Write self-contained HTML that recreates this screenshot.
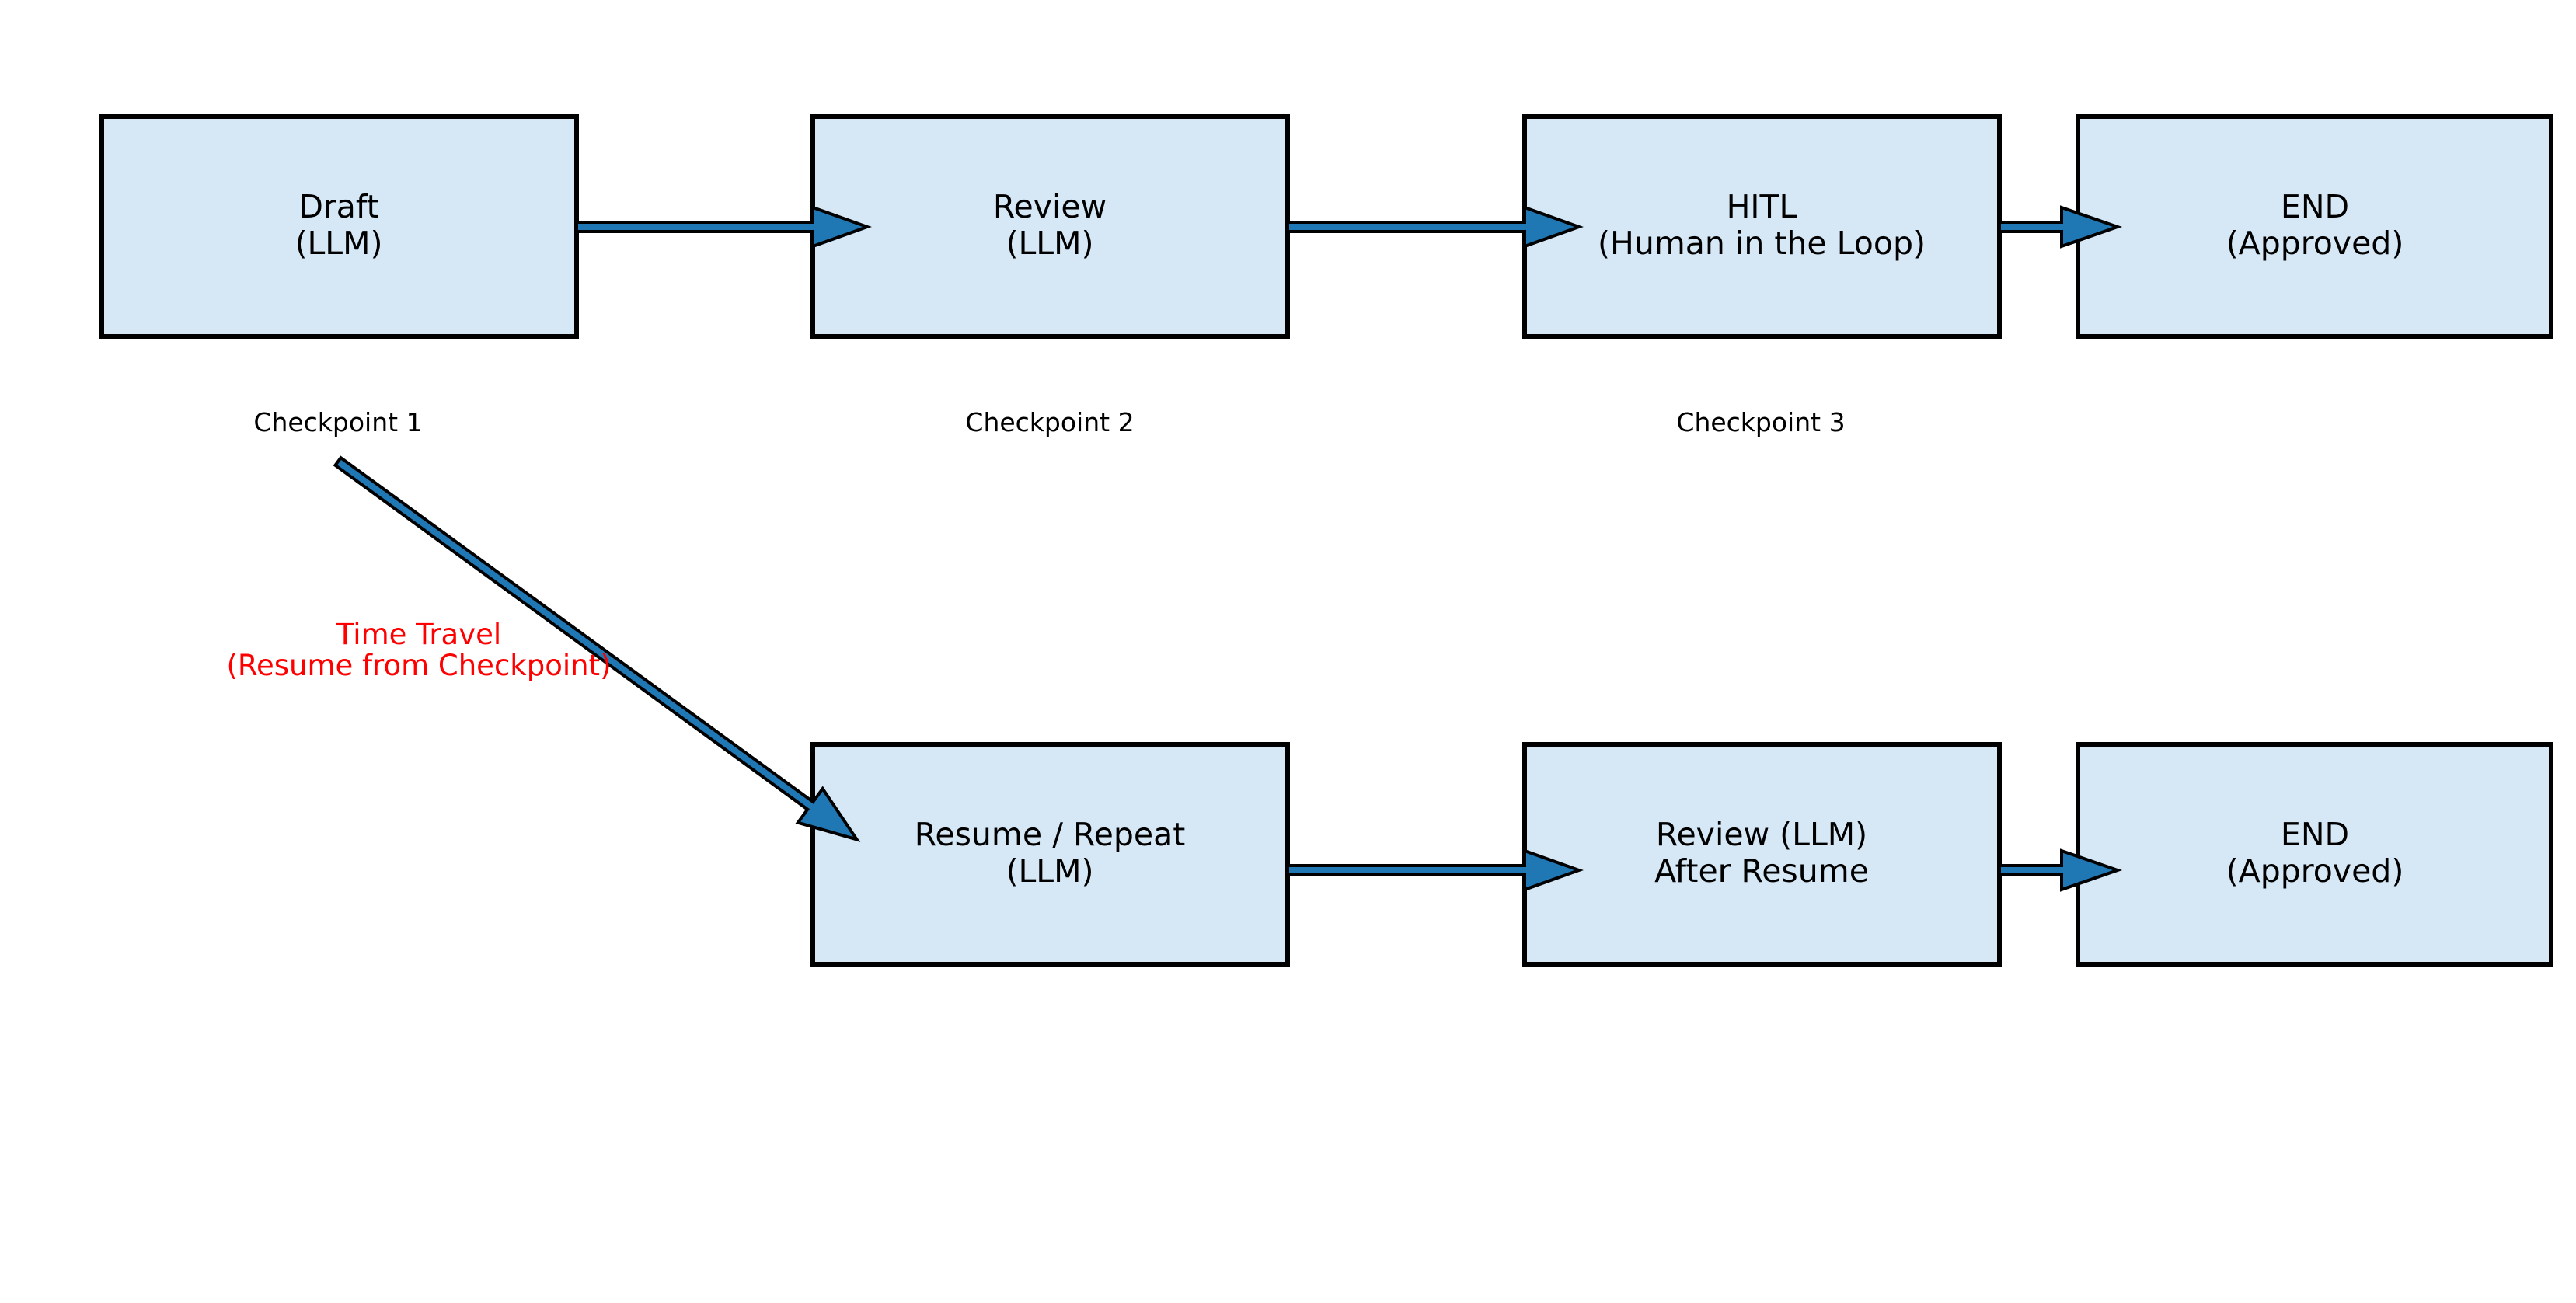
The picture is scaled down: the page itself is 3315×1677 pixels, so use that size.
<!DOCTYPE html>
<html><head><meta charset="utf-8"><style>
html,body{margin:0;padding:0;background:#fff;}
svg{display:block;}
text{font-family:"DejaVu Sans","Liberation Sans",sans-serif;}
</style></head><body>
<svg width="3315" height="1677" viewBox="0 0 3315 1677" xmlns="http://www.w3.org/2000/svg">
<g fill="#d6e8f6" stroke="#000" stroke-width="6">
<rect x="131" y="150" width="611" height="283"/>
<rect x="1046" y="150" width="611" height="283"/>
<rect x="1962" y="150" width="611" height="283"/>
<rect x="2674" y="150" width="609" height="283"/>
<rect x="1046" y="958" width="611" height="283"/>
<rect x="1962" y="958" width="611" height="283"/>
<rect x="2674" y="958" width="609" height="283"/>
</g>
<g fill="#1f77b4" stroke="#000" stroke-width="4" stroke-linejoin="miter">
<polygon transform="translate(742,292)" points="0,-6 304,-6 304,-25 374,0 304,25 304,6 0,6"/>
<polygon transform="translate(1657,292)" points="0,-6 305,-6 305,-25 375,0 305,25 305,6 0,6"/>
<polygon transform="translate(2573,292)" points="0,-6 80,-6 80,-25 152,0 80,25 80,6 0,6"/>
<polygon transform="translate(1657,1120)" points="0,-6 305,-6 305,-25 375,0 305,25 305,6 0,6"/>
<polygon transform="translate(2573,1120)" points="0,-6 80,-6 80,-25 152,0 80,25 80,6 0,6"/>
<polygon transform="translate(435,594) rotate(36.08)" points="0,-6 752,-6 752,-27 826,0 752,27 752,6 0,6"/>
</g>
<g font-size="41" text-anchor="middle" fill="#000">
<text x="436" y="280">Draft</text><text x="436" y="327">(LLM)</text>
<text x="1351" y="280">Review</text><text x="1351" y="327">(LLM)</text>
<text x="2267" y="280">HITL</text><text x="2267" y="327">(Human in the Loop)</text>
<text x="2979" y="280">END</text><text x="2979" y="327">(Approved)</text>
<text x="1351" y="1088">Resume / Repeat</text><text x="1351" y="1135">(LLM)</text>
<text x="2267" y="1088">Review (LLM)</text><text x="2267" y="1135">After Resume</text>
<text x="2979" y="1088">END</text><text x="2979" y="1135">(Approved)</text>
</g>
<g font-size="33" text-anchor="middle" fill="#000">
<text x="435" y="555">Checkpoint 1</text>
<text x="1351" y="555">Checkpoint 2</text>
<text x="2266" y="555">Checkpoint 3</text>
</g>
<g font-size="37" text-anchor="middle" fill="#ff0000">
<text x="539" y="829">Time Travel</text>
<text x="539" y="869">(Resume from Checkpoint)</text>
</g>
</svg>
</body></html>
